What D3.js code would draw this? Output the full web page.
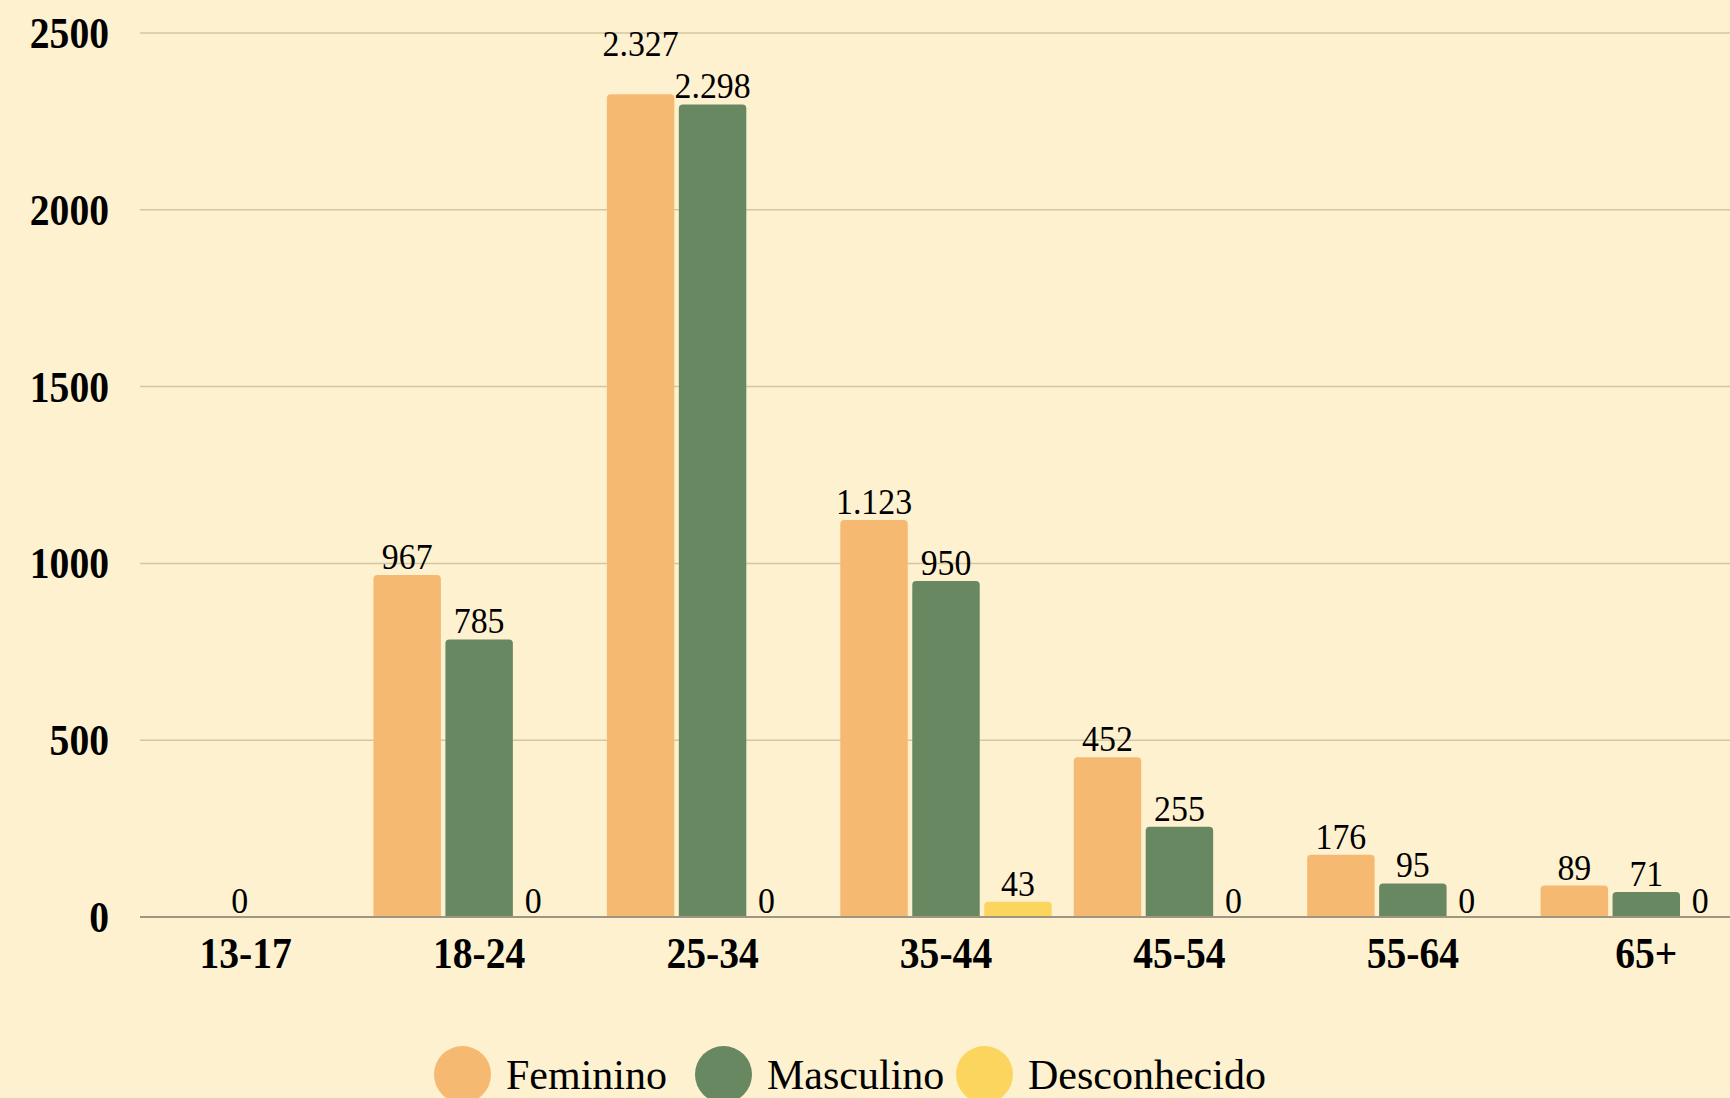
<!DOCTYPE html>
<html>
<head>
<meta charset="utf-8">
<script src="https://cdn.jsdelivr.net/npm/d3@7"></script>
<style>
  body { margin: 0; background: #fef1d0; }
  svg { display: block; }
  text { font-family: "Liberation Serif", "Times New Roman", serif; fill: #000; }
</style>
</head>
<body>
<div class="chart"></div>
<script>
// age groups and counts per gender
var categories = ["13-17", "18-24", "25-34", "35-44", "45-54", "55-64", "65+"];
var seriesNames = ["Feminino", "Masculino", "Desconhecido"];
var feminino = [0, 967, 2327, 1123, 452, 176, 89];
var masculino = [0, 785, 2298, 950, 255, 95, 71];
var desconhecido = [0, 0, 0, 43, 0, 0, 0];
var yTicks = [0, 500, 1000, 1500, 2000, 2500];
var colors = ["#f6b971", "#688862", "#fcd55f"];

// labels that overlap in the original and are not drawn
var hiddenLabels = [["13-17", "Feminino"], ["13-17", "Desconhecido"]];

var w = 1730, h = 1098;

var svg = d3.select("div.chart")
  .append("svg")
  .attr("width", w)
  .attr("height", h)
  .attr("viewBox", `0 0 ${w} ${h}`);

svg.append("rect").attr("width", w).attr("height", h).attr("fill", "#fef1d0");

var values = [feminino, masculino, desconhecido];
var rows = [];
categories.forEach(function(c, i) {
  seriesNames.forEach(function(s, j) {
    rows.push({cat: c, series: s, value: values[j][i], idx: j});
  });
});

var y = d3.scaleLinear().domain([0, 2500]).range([917, 33]);

var x0 = d3.scaleBand().domain(categories).range([129, 1763]);
var x1 = d3.scaleBand().domain(seriesNames).range([0, x0.bandwidth()])
  .paddingInner(0.0625).paddingOuter(0.153);

var ptBR = d3.formatLocale({decimal: ",", thousands: ".", grouping: [3], currency: ["R$", ""]});
var fmt = ptBR.format(",d");

// horizontally squeezed text helper
function sqText(sel, sx) {
  return sel.attr("transform", d => `translate(${d.x},${d.y}) scale(${sx},1)`);
}

//gridlines
svg.append("g").selectAll("line")
  .data(yTicks.filter(d => d > 0))
  .enter()
  .append("line")
    .attr("x1", 140).attr("x2", w)
    .attr("y1", d => y(d)).attr("y2", d => y(d))
    .attr("stroke", "#d3c6a4")
    .attr("stroke-width", 1.5);

//y tick labels
var yl = svg.append("g").selectAll("g")
  .data(yTicks.map(t => ({t: t, x: 109, y: y(t) + 15})))
  .enter()
  .append("g");
sqText(yl, 0.9).append("text")
  .attr("text-anchor", "end")
  .attr("font-size", 44)
  .attr("font-weight", "bold")
  .text(d => d.t);

//bars
svg.append("g").selectAll("path")
  .data(rows.filter(d => d.value > 0))
  .enter()
  .append("path")
    .attr("fill", d => colors[d.idx])
    .attr("d", function(d) {
      var bx = x0(d.cat) + x1(d.series), bw = x1.bandwidth();
      var top = y(d.value), bot = y(0), r = Math.min(4, (bot - top) / 2);
      return `M${bx},${bot}V${top + r}Q${bx},${top} ${bx + r},${top}H${bx + bw - r}Q${bx + bw},${top} ${bx + bw},${top + r}V${bot}Z`;
    });

//baseline
svg.append("line")
  .attr("x1", 140).attr("x2", w)
  .attr("y1", y(0)).attr("y2", y(0))
  .attr("stroke", "#9e9683")
  .attr("stroke-width", 2);

//value labels
var labelRows = rows.filter(d => !hiddenLabels.some(h => h[0] === d.cat && h[1] === d.series))
  .map(function(d) {
    var cx = x0(d.cat) + x1(d.series) + x1.bandwidth() / 2;
    var dx = 0;
    if (d.value === 0) dx = d.idx === 2 ? -18 : -6;
    var txt = fmt(d.value);
    return {x: cx + dx, y: d.value === 0 ? y(0) - 4 : y(d.value) - 6, v: d.value, txt: txt,
            half: txt.length * 0.5 * 36 * 0.94 / 2, cat: d.cat};
  });

// lift a label above its neighbour when the two collide
labelRows.forEach(function(a, i) {
  var b = labelRows[i + 1];
  if (!b || b.cat !== a.cat) return;
  var overlapX = (a.x + a.half) > (b.x - b.half);
  if (overlapX && Math.abs(a.y - b.y) < 30) {
    if (a.v >= b.v) a.y = b.y - 42; else b.y = a.y - 42;
  }
});

var vl = svg.append("g").selectAll("g")
  .data(labelRows)
  .enter()
  .append("g");
sqText(vl, 0.94).append("text")
  .attr("text-anchor", "middle")
  .attr("font-size", 36)
  .text(d => d.txt);

//x labels
var xl = svg.append("g").selectAll("g")
  .data(categories.map(c => ({c: c, x: x0(c) + x0.bandwidth() / 2, y: 968})))
  .enter()
  .append("g");
sqText(xl, 0.9).append("text")
  .attr("text-anchor", "middle")
  .attr("font-size", 44)
  .attr("font-weight", "bold")
  .text(d => d.c);

//legend
var legend = svg.append("g").selectAll("g")
  .data(seriesNames)
  .enter()
  .append("g")
    .attr("transform", (d, i) => `translate(${434 + i * 261},0)`);
legend.append("circle")
  .attr("cx", 28.5).attr("cy", 1074.5).attr("r", 28.5)
  .attr("fill", (d, i) => colors[i]);
legend.append("text")
  .attr("x", 72).attr("y", 1089)
  .attr("font-size", 42)
  .text(d => d);
</script>
</body>
</html>
